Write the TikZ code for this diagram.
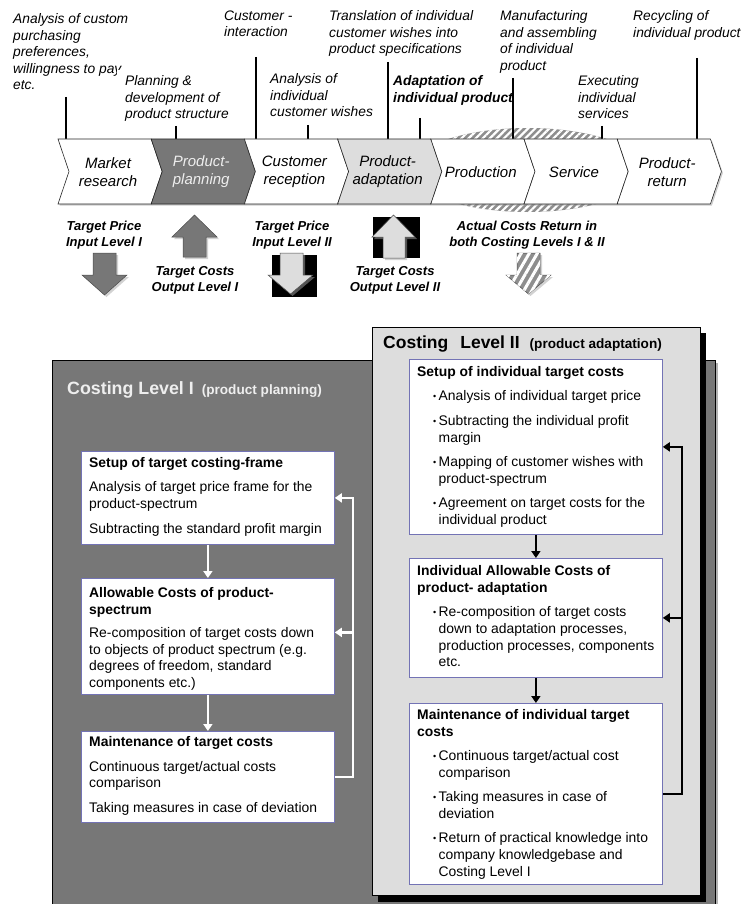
\documentclass[tikz,border=0pt]{standalone}
\usepackage{fontspec}
\setmainfont{Liberation Sans}
\usepackage{tikz}
\usetikzlibrary{calc}
\usetikzlibrary{arrows.meta, patterns.meta, shadows}
\definecolor{plangray}{HTML}{777777}
\definecolor{adaptgray}{HTML}{DDDDDD}
\definecolor{hatchgray}{HTML}{8E8E8E}
\definecolor{boxline}{HTML}{7373B5}
\definecolor{lighttext}{HTML}{EEEEEE}
\newcommand{\lblfont}{\itshape\fontsize{13.8}{16.5}\selectfont}
\newcommand{\boxfont}{\fontsize{13.9}{16.6}\selectfont}
\newcommand{\itembul}{\makebox[5.5pt][l]{\raisebox{1.3pt}{\fontsize{9}{9}\selectfont\textbullet}}}
\newcommand{\bulind}{\hspace*{16pt}}

\begin{document}
\begin{tikzpicture}[x=1pt, y=-1pt,
  lbl/.style={font=\lblfont, align=left, anchor=north west, inner sep=0pt},
  tick/.style={line width=2pt},
  phase/.style={draw=black!85, line width=0.6pt,
    drop shadow={shadow xshift=1.5pt, shadow yshift=-1.5pt, fill=black!40}},
  phasetxt/.style={font=\itshape\fontsize{15}{18}\selectfont, align=center, inner sep=0pt},
  barrow/.style={draw=black!70, line width=0.5pt,
    drop shadow={shadow xshift=2pt, shadow yshift=-2pt, fill=black!35}},
  arrtxt/.style={font=\bfseries\itshape\fontsize{13}{16}\selectfont, align=center, inner sep=0pt},
  stepbox/.style={draw=boxline, fill=white, line width=0.8pt, inner sep=0pt, anchor=north west},
  boxtxt/.style={font=\boxfont, align=left, anchor=north west, inner sep=0pt},
  wflow/.style={white, line width=2.5pt, -{Triangle[length=7pt,width=9pt]}},
  bflow/.style={black, line width=2.5pt, -{Triangle[length=7pt,width=9pt]}},
  hatch/.style={pattern={Lines[angle=45,distance=5pt,line width=2.2pt]}, pattern color=white}
]
\useasboundingbox (0,0) rectangle (742,904);
\clip (0,0) rectangle (742,904);

% Activities above the process chain
\node[lbl] (mrlbl) at (13,13.5) {Analysis of custom\\purchasing\\preferences,\\willingness to pay\\etc.};
\node[lbl, fill=white, inner xsep=8pt, inner ysep=6pt] (pplbl) at (117,69.5) {Planning \&\\development of\\product structure};
\node[lbl] (cilbl) at (224,10.5) {Customer -\\interaction};
\node[lbl] (cwlbl) at (270,73.5) {Analysis of\\individual\\customer wishes};
\node[lbl] (tslbl) at (329,10.5) {Translation of individual\\customer wishes into\\product specifications};
\node[lbl, font=\lblfont\bfseries] (adlbl) at (393,75.5) {Adaptation of\\individual product};
\node[lbl] (malbl) at (500,10.5) {Manufacturing\\and assembling\\of individual\\product};
\node[lbl] (exlbl) at (578,75.5) {Executing\\individual\\services};
\node[lbl] (rclbl) at (633,10.5) {Recycling of\\individual product};

% Individual phases (hatched)
\fill[hatchgray] (527.5,170) ellipse [x radius=117.5, y radius=42];
\fill[hatch] (527.5,170) ellipse [x radius=117.5, y radius=42];

% Ticks
\foreach \x/\y in {66/97, 176/126, 256/57, 308/125, 388/62, 420/118, 513/78, 602/126, 697/58}
  \draw[tick] (\x,\y) -- (\x,139);

% Process chain
\foreach \i/\nm/\txt/\fc/\tc in {0/mr/{Market\\research}/white/black,
    1/pp/{Product-\\planning}/plangray/lighttext,
    2/cr/{Customer\\reception}/white/black,
    3/pa/{Product-\\adaptation}/adaptgray/black,
    4/pr/Production/white/black,
    5/sv/Service/white/black,
    6/rt/{Product-\\return}/white/black}
{
  \pgfmathsetmacro{\L}{58+93.2*\i}
  \draw[phase, fill=\fc] (\L,139) -- ++(93.2,0) -- ++(11,32.5) -- ++(-11,32.5)
    -- ++(-93.2,0) -- ++(11,-32.5) -- cycle;
  \node[phasetxt, text=\tc] (\nm) at (\L+50,172) {\txt};
}

% Cost arrows
\draw[barrow, fill=plangray] (93,253) -- (116,253) -- (116,275) -- (127,275)
  -- (104.5,295) -- (82,275) -- (93,275) -- cycle;
\node[arrtxt] (tpinI) at (104,235) {Target Price\\Input Level I};

\draw[barrow, fill=plangray] (194.5,215) -- (217,237) -- (206,237) -- (206,257)
  -- (183,257) -- (183,237) -- (172,237) -- cycle;
\node[arrtxt] (tcoutI) at (195,280) {Target Costs\\Output Level I};

\fill[black] (272,255) rectangle (317,297);
\draw[barrow, fill=adaptgray] (280,253) -- (303,253) -- (303,275) -- (313,275)
  -- (290.5,294) -- (268,275) -- (280,275) -- cycle;
\node[arrtxt] (tpinII) at (292,235) {Target Price\\Input Level II};

\fill[black] (373,217) rectangle (420,258);
\draw[barrow, fill=adaptgray] (393.5,215) -- (415,237) -- (405,237) -- (405,258)
  -- (383,258) -- (383,237) -- (372,237) -- cycle;
\node[arrtxt] (tcoutII) at (395,280) {Target Costs\\Output Level II};

\draw[barrow, fill=hatchgray] (517,253) -- (540,253) -- (540,275) -- (551,275)
  -- (528.5,294) -- (506,275) -- (517,275) -- cycle;
\fill[pattern={Lines[angle=60,distance=7pt,line width=3pt]}, pattern color=white]
  (517,253) -- (540,253) -- (540,275) -- (551,275)
  -- (528.5,294) -- (506,275) -- (517,275) -- cycle;
\node[arrtxt] (acret) at (527,235) {Actual Costs Return in\\both Costing Levels I \& II};

% Costing level I
\draw[fill=plangray, drop shadow={shadow xshift=3pt, shadow yshift=-3pt, fill=black!60}]
  (52,360) rectangle (715,915);
\node[anchor=base west, inner sep=0pt, text=lighttext, font=\bfseries\fontsize{17.8}{20}\selectfont]
  (lvlI) at (67,394) {Costing Level I\hspace{8pt}{\fontsize{13.6}{16}\selectfont(product planning)}};

\node[stepbox, minimum width=253pt, minimum height=93pt] (setupI) at (81,451) {};
\node[stepbox, minimum width=253pt, minimum height=116pt] (allowI) at (81,578) {};
\node[stepbox, minimum width=253pt, minimum height=91pt] (maintI) at (81,731) {};

\node[boxtxt] (setupItxt) at (89,457.5) {\textbf{Setup of target costing-frame}\\[7.5pt]
  Analysis of target price frame for the\\product-spectrum\\[8pt]
  Subtracting the standard profit margin};
\node[boxtxt] (allowItxt) at (89,587.5) {\textbf{Allowable Costs of product-}\\\textbf{spectrum}\\[6.5pt]
  Re-composition of target costs down\\to objects of product spectrum (e.g.\\
  degrees of freedom, standard\\components etc.)};
\node[boxtxt] (maintItxt) at (89,736.5) {\textbf{Maintenance of target costs}\\[8pt]
  Continuous target/actual costs\\comparison\\[8pt]
  Taking measures in case of deviation};

\draw[wflow] (setupI) -- (allowI);
\draw[wflow] (allowI) -- (maintI);
\draw[wflow] (maintI.east) -- ++(18,0) coordinate (loopI) |- (setupI.east);
\coordinate (allowIin) at ([yshift=4pt]allowI.east);
\draw[wflow] (loopI |- allowIin) -- (allowIin);

% Costing level II
\fill[black] (378,333) rectangle (706,902);
\draw[fill=adaptgray] (372,327) rectangle (700,895);
\node[anchor=base west, inner sep=0pt, font=\bfseries\fontsize{17.5}{20}\selectfont]
  (lvlII) at (383,348) {Costing\hspace{12pt}Level II\hspace{10pt}{\fontsize{13.6}{16}\selectfont(product adaptation)}};

\node[stepbox, minimum width=253pt, minimum height=175pt] (setupII) at (409,359) {};
\node[stepbox, minimum width=253pt, minimum height=119pt] (allowII) at (409,558) {};
\node[stepbox, minimum width=253pt, minimum height=181pt] (maintII) at (409,703) {};

\node[boxtxt] (setupIItxt) at (417,366.5) {\textbf{Setup of individual target costs}\\[7.5pt]
  \bulind\itembul Analysis of individual target price\\[8pt]
  \bulind\itembul Subtracting the individual profit\\
  \bulind\hphantom{\itembul}margin\\[8pt]
  \bulind\itembul Mapping of customer wishes with\\
  \bulind\hphantom{\itembul}product-spectrum\\[8pt]
  \bulind\itembul Agreement on target costs for the\\
  \bulind\hphantom{\itembul}individual product};
\node[boxtxt] (allowIItxt) at (417,565.5) {\textbf{Individual Allowable Costs of}\\\textbf{product- adaptation}\\[8pt]
  \bulind\itembul Re-composition of target costs\\
  \bulind\hphantom{\itembul}down to adaptation processes,\\
  \bulind\hphantom{\itembul}production processes, components\\
  \bulind\hphantom{\itembul}etc.};
\node[boxtxt] (maintIItxt) at (417,709.5) {\textbf{Maintenance of individual target}\\\textbf{costs}\\[7.5pt]
  \bulind\itembul Continuous target/actual cost\\
  \bulind\hphantom{\itembul}comparison\\[8pt]
  \bulind\itembul Taking measures in case of\\
  \bulind\hphantom{\itembul}deviation\\[8pt]
  \bulind\itembul Return of practical knowledge into\\
  \bulind\hphantom{\itembul}company knowledgebase and\\
  \bulind\hphantom{\itembul}Costing Level I};

\draw[bflow] (setupII) -- (allowII);
\draw[bflow] (allowII) -- (maintII);
\draw[bflow] (maintII.east) -- ++(19,0) coordinate (loopII) |- (setupII.east);
\draw[bflow] (loopII |- allowII.east) -- (allowII.east);

\end{tikzpicture}
\end{document}
